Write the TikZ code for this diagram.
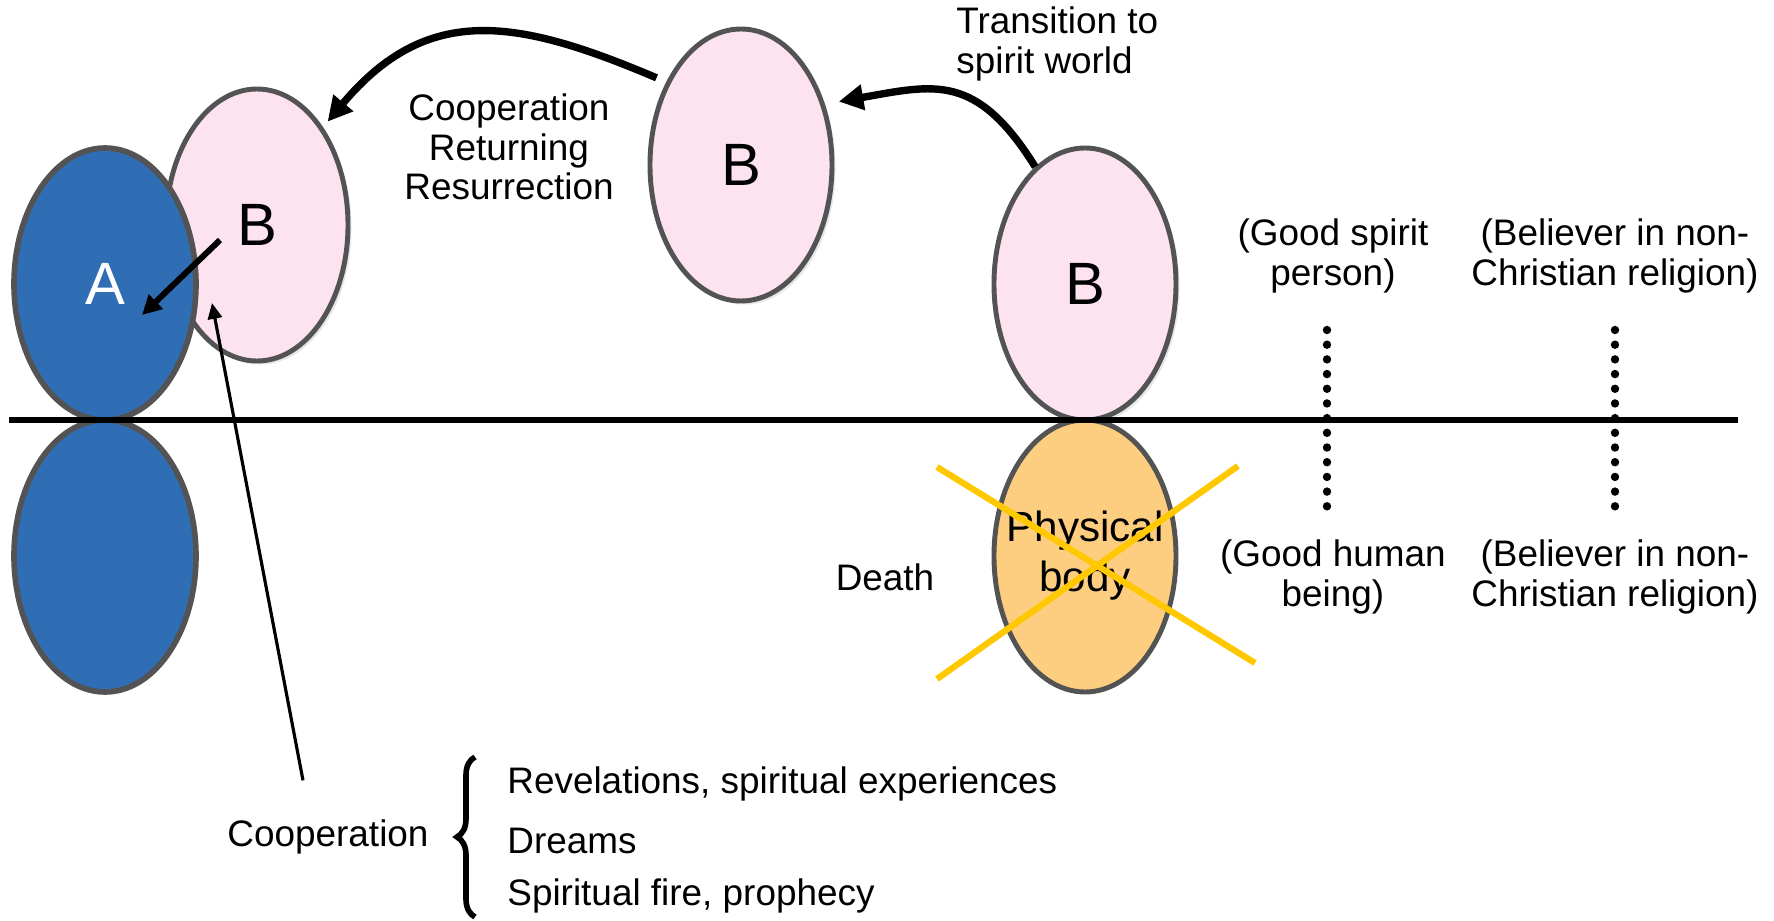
\documentclass[tikz,border=0pt]{standalone}
\usepackage{fontspec}
\setmainfont{Liberation Sans}
\usepackage{tikz}
\usetikzlibrary{shapes.geometric,arrows.meta,positioning,calc,shadows,decorations.pathreplacing}

\definecolor{rimgray}{HTML}{535353}
\definecolor{earthblue}{HTML}{2F6EB5}
\definecolor{spiritpink}{HTML}{FDE2F0}
\definecolor{bodyorange}{HTML}{FDCE80}
\definecolor{crossyellow}{HTML}{FFC800}

\tikzset{
    person/.style={ellipse, draw=rimgray, line width=1.6pt, minimum width=1.82cm, minimum height=2.72cm, inner sep=0pt, font=\fontsize{17}{20}\selectfont},
    spiritself/.style={person, fill=spiritpink, line width=1.4pt, drop shadow={shadow xshift=1pt, shadow yshift=-1pt, opacity=0.2}},
    physself/.style={person, fill=earthblue, text=white},
    note/.style={font=\fontsize{10.5}{11.3}\selectfont, align=center},
    bigarrow/.style={line width=2.1pt, -{Triangle[length=7pt,width=7pt]}},
    dotline/.style={line width=2.4pt, line cap=round, dash pattern=on 0pt off 4.18pt},
    crossline/.style={crossyellow, line width=1.8pt},
}

\begin{document}
\begin{tikzpicture}
    \useasboundingbox (0,0) rectangle (17.74,9.20);
    \node[spiritself] (Bnear) at (2.57,6.95) {B};
    \node[physself] (A) at (1.05,6.36) {A};
    \node[physself] (Alow) at (1.05,3.64) {};
    \node[spiritself] (Bup) at (7.41,7.55) {B};
    \node[spiritself] (Bdead) at (10.85,6.36) {B};
    \node[person, fill=bodyorange, line width=1.4pt] (Flesh) at (10.85,3.64) {};
    \node[font=\fontsize{12}{14.2}\selectfont, align=center] (FleshText) at (Flesh) {Physical\\body};
    \draw[line width=1.7pt] (0.09,5) -- (17.38,5);
    \draw[crossline] (9.37,4.53) -- (12.55,2.57);
    \draw[crossline] (9.37,2.41) -- (12.38,4.54);

    \node[note, anchor=west, align=left] (Transit) at (9.44,8.76) {Transition to\\spirit world};
    \node[note] (Return) at (5.09,7.73) {Cooperation\\Returning\\Resurrection};
    \node[note] (Death) at (8.85,3.43) {Death};
    \node[note] (GoodSpirit) at (13.33,6.64) {(Good spirit\\person)};
    \node[note] (OtherSpirit) at (16.15,6.64) {(Believer in non-\\Christian religion)};
    \node[note] (GoodHuman) at (13.33,3.43) {(Good human\\being)};
    \node[note] (OtherHuman) at (16.15,3.43) {(Believer in non-\\Christian religion)};
    \draw[dotline] (13.27,5.90) -- (13.27,4.13);
    \draw[dotline] (16.15,5.90) -- (16.15,4.13);

    \draw[bigarrow, shorten <=3pt, shorten >=2pt] (Bup.132) to[out=157, in=50, looseness=1.2] (Bnear.56);
    \draw[bigarrow, shorten >=4pt] (Bdead.113) to[out=122, in=10, looseness=1.3] (Bup.36);
    \draw[line width=1.7pt, -{Triangle[length=5.5pt,width=5.5pt]}] ($(Bnear)+(-0.37,-0.15)$) -- ($(A)+(0.37,-0.31)$);

    \node[note] (Coop) at (3.28,0.83) {Cooperation};
    \draw[line width=0.9pt, -{Triangle[length=4.5pt,width=4pt]}] ($(Coop.north)+(-0.25,0.27)$) -- ($(Bnear)+(-0.45,-0.78)$);
    \draw[line width=1.6pt, decorate, decoration={brace, amplitude=0.18cm}] (4.75,0.03) -- (4.75,1.63);
    \node[note, anchor=west] (Revel) at (4.95,1.36) {Revelations, spiritual experiences};
    \node[note, anchor=west] (Dream) at (4.95,0.79) {Dreams};
    \node[note, anchor=west] (Fire) at (4.95,0.24) {Spiritual fire, prophecy};
\end{tikzpicture}
\end{document}
